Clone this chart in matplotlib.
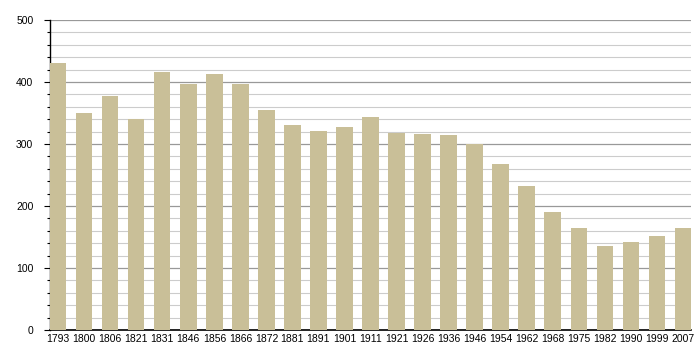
import matplotlib
matplotlib.use("Agg")
import numpy as np
from matplotlib import pyplot as plt
from matplotlib.ticker import MultipleLocator

# Population by census year
years = ['1793', '1800', '1806', '1821', '1831', '1846', '1856', '1866', '1872',
         '1881', '1891', '1901', '1911', '1921', '1926', '1936', '1946', '1954',
         '1962', '1968', '1975', '1982', '1990', '1999', '2007']
population = [430, 350, 378, 340, 416, 397, 413, 397, 355,
              331, 321, 327, 343, 318, 316, 314, 300, 268,
              232, 190, 165, 135, 142, 152, 165]

plt.rcParams['font.family'] = ['Liberation Sans', 'DejaVu Sans']

fig = plt.figure(figsize=(7, 3.6), dpi=100)
ax = fig.add_axes([50 / 700, 30 / 360, 641 / 700, 310 / 360])

x = np.arange(len(years))
bar_w = 0.63
ax.bar(x, population, width=bar_w, color='#c9bf98', zorder=3)

ax.set_xlim(-bar_w / 2, len(years) - 1 + bar_w / 2)
ax.set_ylim(0, 500)
ax.set_xticks(x)
ax.set_xticklabels(years, fontsize=7.5)
ax.yaxis.set_major_locator(MultipleLocator(100))
ax.yaxis.set_minor_locator(MultipleLocator(20))
ax.tick_params(axis='x', length=0, pad=3)
ax.tick_params(axis='y', which='major', length=4, width=0.8, labelsize=7.5, pad=8)
ax.tick_params(axis='y', which='minor', length=2, width=0.8)

ax.grid(axis='y', which='major', color='#999999', linewidth=0.9, zorder=0)
ax.grid(axis='y', which='minor', color='#cccccc', linewidth=0.8, zorder=0)

for side in ['top', 'right']:
    ax.spines[side].set_visible(False)
ax.spines['left'].set_linewidth(1.0)
ax.spines['bottom'].set_linewidth(1.2)

fig.savefig('out.png', dpi=100)
